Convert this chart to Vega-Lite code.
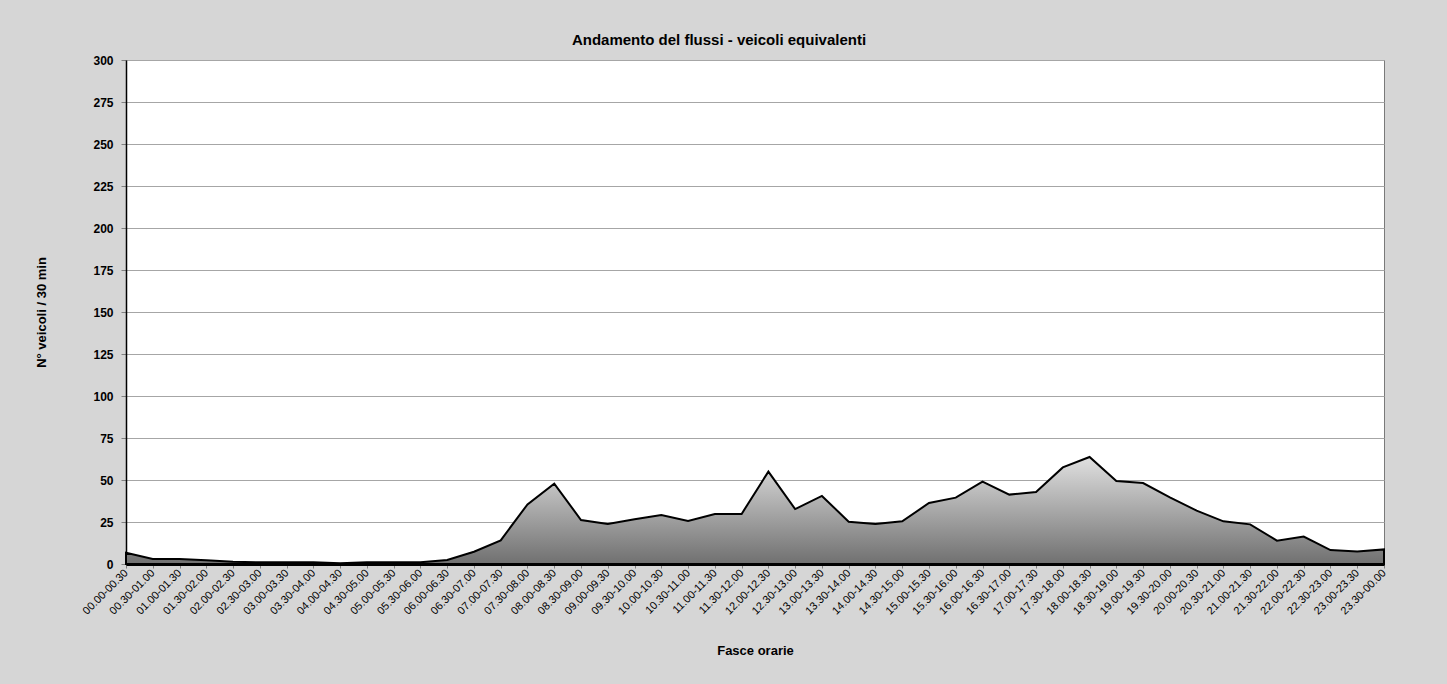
{
  "$schema": "https://vega.github.io/schema/vega-lite/v6.json",
  "width": 1258,
  "height": 504,
  "autosize": {"type": "none"},
  "padding": {"left": 126, "top": 60, "right": 63, "bottom": 120},
  "background": "#d6d6d6",
  "title": {
    "text": "Andamento del flussi - veicoli equivalenti",
    "font": "Liberation Sans",
    "fontSize": 15,
    "fontWeight": "bold",
    "color": "#000000",
    "anchor": "middle",
    "dx": -36,
    "offset": 6
  },
  "data": {
    "values": [
      {"fascia": "00.00-00.30", "veicoli": 6.7},
      {"fascia": "00.30-01.00", "veicoli": 3.0},
      {"fascia": "01.00-01.30", "veicoli": 3.0},
      {"fascia": "01.30-02.00", "veicoli": 2.2},
      {"fascia": "02.00-02.30", "veicoli": 1.3},
      {"fascia": "02.30-03.00", "veicoli": 1.0},
      {"fascia": "03.00-03.30", "veicoli": 1.0},
      {"fascia": "03.30-04.00", "veicoli": 1.0},
      {"fascia": "04.00-04.30", "veicoli": 0.5},
      {"fascia": "04.30-05.00", "veicoli": 1.0},
      {"fascia": "05.00-05.30", "veicoli": 1.0},
      {"fascia": "05.30-06.00", "veicoli": 1.0},
      {"fascia": "06.00-06.30", "veicoli": 2.4},
      {"fascia": "06.30-07.00", "veicoli": 7.3},
      {"fascia": "07.00-07.30", "veicoli": 14.1},
      {"fascia": "07.30-08.00", "veicoli": 35.5},
      {"fascia": "08.00-08.30", "veicoli": 47.8},
      {"fascia": "08.30-09.00", "veicoli": 26.2},
      {"fascia": "09.00-09.30", "veicoli": 23.8},
      {"fascia": "09.30-10.00", "veicoli": 26.6},
      {"fascia": "10.00-10.30", "veicoli": 29.2},
      {"fascia": "10.30-11.00", "veicoli": 25.6},
      {"fascia": "11.00-11.30", "veicoli": 29.8},
      {"fascia": "11.30-12.00", "veicoli": 29.8},
      {"fascia": "12.00-12.30", "veicoli": 55.0},
      {"fascia": "12.30-13.00", "veicoli": 32.7},
      {"fascia": "13.00-13.30", "veicoli": 40.5},
      {"fascia": "13.30-14.00", "veicoli": 25.2},
      {"fascia": "14.00-14.30", "veicoli": 23.8},
      {"fascia": "14.30-15.00", "veicoli": 25.4},
      {"fascia": "15.00-15.30", "veicoli": 36.3},
      {"fascia": "15.30-16.00", "veicoli": 39.5},
      {"fascia": "16.00-16.30", "veicoli": 49.0},
      {"fascia": "16.30-17.00", "veicoli": 41.3},
      {"fascia": "17.00-17.30", "veicoli": 42.9},
      {"fascia": "17.30-18.00", "veicoli": 57.5},
      {"fascia": "18.00-18.30", "veicoli": 63.7},
      {"fascia": "18.30-19.00", "veicoli": 49.4},
      {"fascia": "19.00-19.30", "veicoli": 48.2},
      {"fascia": "19.30-20.00", "veicoli": 39.7},
      {"fascia": "20.00-20.30", "veicoli": 31.8},
      {"fascia": "20.30-21.00", "veicoli": 25.4},
      {"fascia": "21.00-21.30", "veicoli": 23.6},
      {"fascia": "21.30-22.00", "veicoli": 13.9},
      {"fascia": "22.00-22.30", "veicoli": 16.3},
      {"fascia": "22.30-23.00", "veicoli": 8.3},
      {"fascia": "23.00-23.30", "veicoli": 7.5},
      {"fascia": "23.30-00.00", "veicoli": 8.7}
    ]
  },
  "mark": {
    "type": "area",
    "stroke": "#000000",
    "strokeWidth": 2,
    "strokeJoin": "miter",
    "fill": {
      "gradient": "linear",
      "x1": 0, "y1": 0, "x2": 0, "y2": 1,
      "stops": [
        {"offset": 0, "color": "#e0e0e0"},
        {"offset": 1, "color": "#707070"}
      ]
    }
  },
  "encoding": {
    "x": {
      "field": "fascia",
      "type": "ordinal",
      "sort": null,
      "scale": {"type": "point", "padding": 0},
      "axis": {
        "title": "Fasce orarie",
        "titleFont": "Liberation Sans",
        "titleFontSize": 13,
        "titleFontWeight": "bold",
        "titleColor": "#000000",
        "titlePadding": 28,
        "labelAngle": -45,
        "labelAlign": "right",
        "labelBaseline": "middle",
        "labelFont": "Liberation Sans",
        "labelFontSize": 11,
        "labelColor": "#000000",
        "labelPadding": 3,
        "labelOverlap": false,
        "domainColor": "#000000",
        "domainWidth": 3,
        "tickColor": "#808080",
        "tickSize": 4,
        "grid": false
      }
    },
    "y": {
      "field": "veicoli",
      "type": "quantitative",
      "scale": {"domain": [0, 300], "nice": false},
      "axis": {
        "title": "N° veicoli / 30 min",
        "titleFont": "Liberation Sans",
        "titleFontSize": 13,
        "titleFontWeight": "bold",
        "titleColor": "#000000",
        "titlePadding": 44,
        "values": [0, 25, 50, 75, 100, 125, 150, 175, 200, 225, 250, 275, 300],
        "labelFont": "Liberation Sans",
        "labelFontSize": 12,
        "labelFontWeight": "bold",
        "labelColor": "#000000",
        "labelPadding": 8,
        "domainColor": "#000000",
        "domainWidth": 1.5,
        "tickColor": "#808080",
        "tickSize": 5,
        "grid": true,
        "gridColor": "#a6a6a6",
        "gridWidth": 1
      }
    }
  },
  "config": {
    "view": {"fill": "#ffffff", "stroke": "#7a7a7a", "strokeWidth": 1}
  }
}
